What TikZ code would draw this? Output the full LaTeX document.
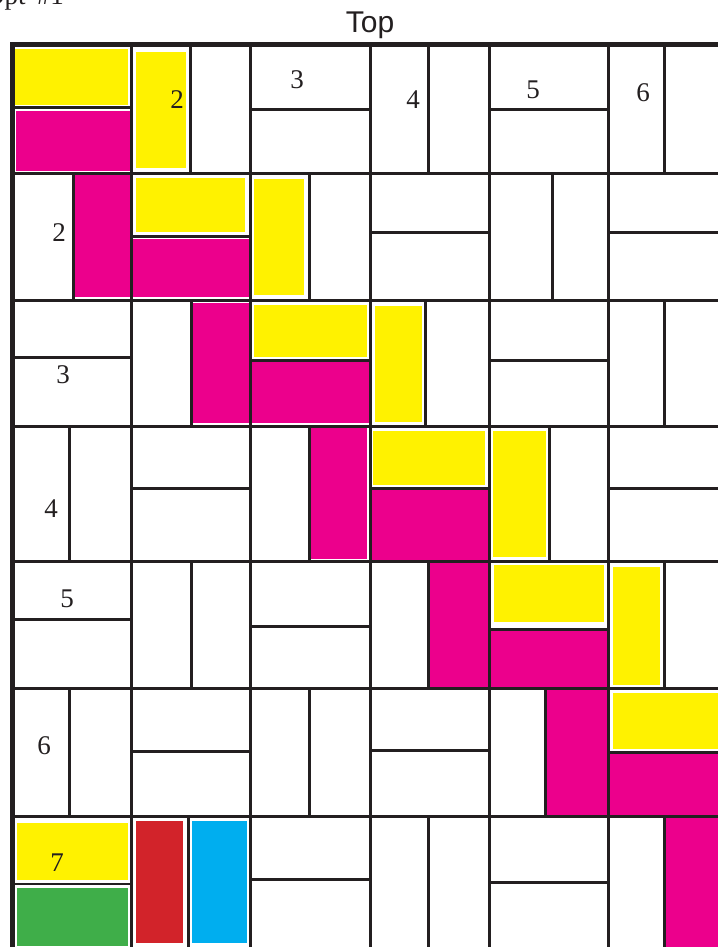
\documentclass[tikz,border=0pt]{standalone}
\usepackage{fontspec}
\setmainfont{Liberation Serif}
\newfontfamily\topfont{Liberation Sans}
\definecolor{lineC}{RGB}{35,31,32}
\definecolor{yel}{RGB}{255,242,0}
\definecolor{mag}{RGB}{236,0,140}
\definecolor{redC}{RGB}{210,35,42}
\definecolor{bluC}{RGB}{0,174,239}
\definecolor{grnC}{RGB}{63,174,73}
\tikzset{
  gridline/.style={draw=lineC, line width=3pt},
  border/.style={draw=lineC, line width=5pt},
  yfill/.style={fill=yel},
  mfill/.style={fill=mag},
  numlabel/.style={inner sep=0pt, font=\fontsize{27}{30}\selectfont, text=lineC},
}
\begin{document}
\begin{tikzpicture}[x=1pt,y=-1pt]
\useasboundingbox (0,0) rectangle (718,947);
\clip (0,0) rectangle (718,947);
\fill[white] (0,0) rectangle (718,947);
% coloured tiles
\fill[yfill] (14,49) rectangle (128,105);
\fill[mfill] (16,111) rectangle (130,171);
\fill[yfill] (136,52) rectangle (186,168);
\fill[mfill] (75,175) rectangle (130,297);
\fill[yfill] (136,178) rectangle (245,232);
\fill[mfill] (133,239) rectangle (249,297);
\fill[yfill] (254,179) rectangle (304,295);
\fill[mfill] (192,303) rectangle (249,423);
\fill[yfill] (254,305) rectangle (367,357);
\fill[mfill] (252,362) rectangle (369,423);
\fill[yfill] (375,306) rectangle (422,422);
\fill[mfill] (310,427) rectangle (367,559);
\fill[yfill] (373,431) rectangle (485,485);
\fill[mfill] (370,488) rectangle (489,560);
\fill[yfill] (493,431) rectangle (546,557);
\fill[mfill] (430,562) rectangle (488,687);
\fill[yfill] (494,565) rectangle (604,622);
\fill[mfill] (491,631) rectangle (607,688);
\fill[yfill] (613,567) rectangle (660,685);
\fill[mfill] (546,689) rectangle (608,815);
\fill[yfill] (613,693) rectangle (718,749);
\fill[mfill] (608,754) rectangle (718,815);
\fill[mfill] (665,817) rectangle (718,947);
\fill[yfill] (17,823) rectangle (128,880);
\fill[grnC] (17,888) rectangle (128,946);
\fill[redC] (136,821) rectangle (183,943);
\fill[bluC] (192,821) rectangle (247,943);
% column and row lines
\foreach \x in {131,250,370,489,608} \draw[gridline] (\x,45) -- (\x,947);
\foreach \y in {173,300,426,561,688,816} \draw[gridline] (12,\y) -- (718,\y);
% horizontal splits: x0, x1, y
\foreach \a/\b/\y in {15/130/108, 250/370/110, 489/608/110,
  131/250/236, 370/489/232, 608/718/232,
  12/131/357, 250/370/360, 489/608/360,
  131/250/488, 370/489/488, 608/718/488,
  12/131/619, 250/370/626, 489/608/629,
  131/250/751, 370/489/750, 608/718/752,
  250/370/879, 489/608/882}
  \draw[gridline] (\a,\y) -- (\b,\y);
\draw[draw=lineC, line width=1.5pt] (12,884) -- (131,884);
% vertical splits: y0, y1, x
\foreach \a/\b/\x in {45/173/190, 45/173/428, 45/173/664,
  173/300/73, 173/300/309, 173/300/552,
  300/426/191, 300/426/425, 300/426/664,
  426/561/69, 426/561/309, 426/561/549,
  561/688/191, 561/688/428, 561/688/664,
  688/816/69, 688/816/309, 688/816/545,
  816/947/188, 816/947/428, 816/947/664}
  \draw[gridline] (\x,\a) -- (\x,\b);
% outer borders
\draw[border] (12,947) -- (12,45) -- (718,45);
% labels
\node[numlabel] (c12) at (177,100) {2};
\node[numlabel] (c13) at (297,80) {3};
\node[numlabel] (c14) at (413,100) {4};
\node[numlabel] (c15) at (533,90) {5};
\node[numlabel] (c16) at (643,93) {6};
\node[numlabel] (c21) at (59,233) {2};
\node[numlabel] (c31) at (63,375) {3};
\node[numlabel] (c41) at (51,509) {4};
\node[numlabel] (c51) at (67,599) {5};
\node[numlabel] (c61) at (44,746) {6};
\node[numlabel] (c71) at (57,863) {7};
\node[inner sep=0pt, font=\topfont\fontsize{30}{32}\selectfont, text=lineC] (top) at (370,25) {Top};
\node[inner sep=0pt, anchor=base west, font=\fontsize{27}{30}\selectfont, text=lineC] (opt) at (-15,5) {Opt\,\ \#1};
\end{tikzpicture}
\end{document}
